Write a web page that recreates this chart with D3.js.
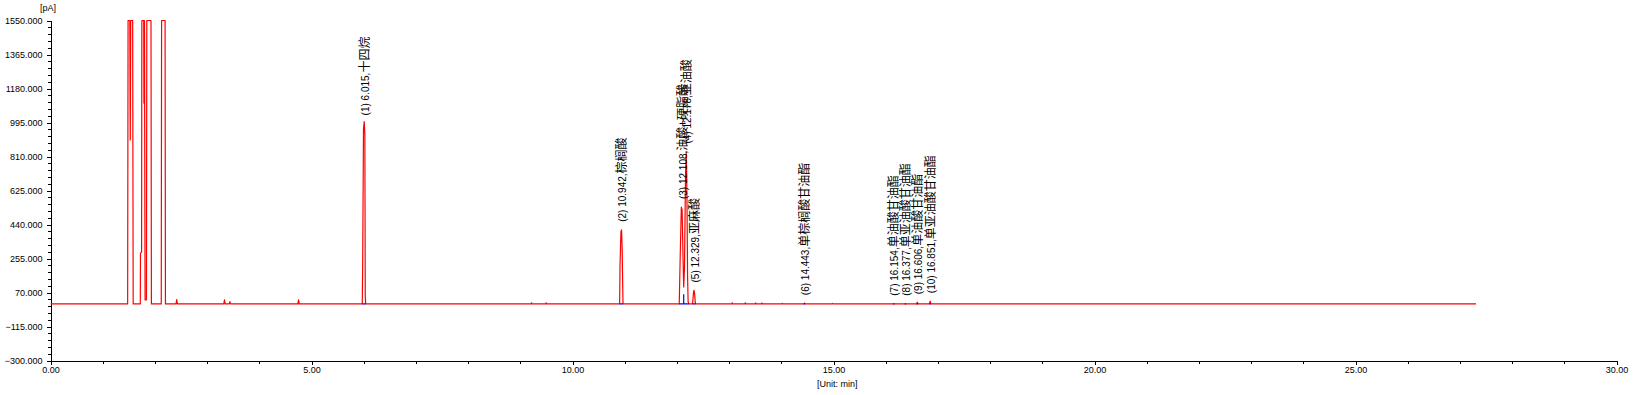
<!DOCTYPE html>
<html>
<head>
<meta charset="utf-8">
<script src="https://cdn.jsdelivr.net/npm/d3@7"></script>
<style>
  body { margin: 0; background: #fff; }
  svg { display: block; }
  .axis text { font-family: "Liberation Sans", Arial, sans-serif; font-size: 9px; fill: #000; }
  .axis path, .axis line { stroke: #000; shape-rendering: crispEdges; }
  .unit { font-family: "Liberation Sans", Arial, sans-serif; font-size: 9px; fill: #000; }
  .plabel { font-family: "Liberation Sans", Arial, sans-serif; font-size: 10px; fill: #000; }
  .plabel .cjk { font-family: "Noto Sans CJK SC", sans-serif; font-size: 12px; }
</style>
</head>
<body>
<script>
// chromatogram trace (time in min, signal in pA)
var traceTimes = [
  0, 1.478, 1.486, 1.520, 1.528, 1.536, 1.574, 1.584,
  1.720, 1.724, 1.745, 1.750, 1.786, 1.790, 1.796, 1.800, 1.812, 1.838, 1.845, 1.925, 1.933,
  2.122, 2.128, 2.195, 2.202,
  2.405, 2.418, 2.431, 3.320, 3.333, 3.346, 3.425, 3.437, 3.449, 4.740, 4.752, 4.764,
  5.972, 5.980, 5.996, 6.010, 6.022, 6.030, 6.038,
  9.205, 9.215, 9.225, 9.485, 9.495, 9.505,
  10.903, 10.910, 10.928, 10.940, 10.952, 10.960, 10.968,
  12.045, 12.062, 12.085, 12.100, 12.118, 12.130, 12.145, 12.165, 12.178, 12.192, 12.205, 12.215, 12.228,
  12.300, 12.310, 12.320, 12.329, 12.340, 12.350, 12.360,
  13.050, 13.060, 13.070, 13.300, 13.310, 13.320, 13.500, 13.510, 13.520, 13.620, 13.630, 13.640,
  14.010, 14.020, 14.030, 14.430, 14.443, 14.456, 14.970, 14.980, 14.990,
  16.142, 16.154, 16.166, 16.365, 16.377, 16.389, 16.592, 16.606, 16.620, 16.836, 16.851, 16.866,
  27.310
];
var traceValues = [
  8, 8, 1550, 1550, 900, 1550, 1550, 8,
  8, 284, 290, 1550, 1550, 1100, 1110, 1550, 30, 30, 1550, 1550, 8,
  8, 1550, 1550, 8,
  8, 32, 8, 8, 30, 8, 8, 20, 8, 8, 30, 8,
  8, 203, 960, 1000, 930, 48, 8,
  8, 14, 8, 8, 14, 8,
  8, 210, 400, 411, 300, 139, 8,
  8, 250, 535, 520, 250, 100, 200, 700, 837, 600, 150, 20, 8,
  8, 40, 78, 81, 60, 20, 8,
  8, 14, 8, 8, 14, 8, 8, 13, 8, 8, 13, 8,
  8, 11, 8, 8, 12, 8, 8, 11, 8,
  8, 9, 8, 8, 9, 8, 8, 17, 8, 8, 23, 8,
  8
];

// identified peaks
var peakNums = [1, 2, 3, 4, 5, 6, 7, 8, 9, 10];
var peakTimes = [6.015, 10.942, 12.108, 12.178, 12.329, 14.443, 16.154, 16.377, 16.606, 16.851];
var peakNames = ["十四烷", "棕榈酸", "油酸+硬脂酸", "亚油酸", "亚麻酸", "单棕榈酸甘油酯",
  "单油酸甘油酯", "单亚油酸甘油酯", "单油酸甘油酯", "单亚油酸甘油酯"];
var peakHeights = [990, 411, 535, 837, 81, 12, 9, 9, 17, 23];
// integration baseline of each peak (blue)
var peakStarts = [5.972, 10.903, 12.045, 12.130, 12.300, 14.430, 16.142, 16.365, 16.592, 16.836];
var peakEnds = [6.038, 10.968, 12.130, 12.228, 12.360, 14.456, 16.166, 16.389, 16.620, 16.866];
var baselineValue = 8;

// axis ticks
var yTicks = [-300, -115, 70, 255, 440, 625, 810, 995, 1180, 1365, 1550];
var xTicks = [0, 5, 10, 15, 20, 25, 30];

var width = 1636,
  height = 395;

var x = d3.scaleLinear().domain([0, 30]).range([50.5, 1616.5]);
var y = d3.scaleLinear().domain([-300, 1550]).range([360.5, 20.5]);

var svg = d3.select("body").append("svg")
  .attr("width", width)
  .attr("height", height);

svg.append("rect")
  .attr("width", width)
  .attr("height", height)
  .attr("fill", "#fff");

svg.append("clipPath")
  .attr("id", "plotclip")
  .append("rect")
  .attr("x", x(0))
  .attr("y", y(1550) - 1)
  .attr("width", x(30) - x(0))
  .attr("height", y(-300) - y(1550) + 1);

// minor ticks on y every 37 pA
var yMinor = d3.range(-300, 1551, 37).filter(function(v) { return yTicks.indexOf(v) < 0; });
svg.append("g")
  .attr("class", "axis")
  .attr("transform", "translate(" + x(0) + ",0)")
  .call(d3.axisLeft(y).tickValues(yMinor).tickSize(3).tickSizeOuter(0).tickFormat(""));

svg.append("g")
  .attr("class", "axis")
  .attr("transform", "translate(" + x(0) + ",0)")
  .call(d3.axisLeft(y).tickValues(yTicks).tickSize(4).tickSizeOuter(0).tickPadding(4)
    .tickFormat(d3.format(".3f")));

// minor ticks on x every minute
var xMinor = d3.range(0, 31, 1).filter(function(v) { return xTicks.indexOf(v) < 0; });
svg.append("g")
  .attr("class", "axis")
  .attr("transform", "translate(0," + y(-300) + ")")
  .call(d3.axisBottom(x).tickValues(xMinor).tickSize(3).tickSizeOuter(0).tickFormat(""));

svg.append("g")
  .attr("class", "axis")
  .attr("transform", "translate(0," + y(-300) + ")")
  .call(d3.axisBottom(x).tickValues(xTicks).tickSize(4).tickSizeOuter(0).tickPadding(2)
    .tickFormat(d3.format(".2f")));

// unit labels
svg.append("text")
  .attr("class", "unit")
  .attr("x", 40)
  .attr("y", 11)
  .text("[pA]");

svg.append("text")
  .attr("class", "unit")
  .attr("x", 817)
  .attr("y", 387)
  .text("[Unit: min]");

var plot = svg.append("g").attr("clip-path", "url(#plotclip)");

// the signal
var tracePoints = traceTimes.map(function(t, i) { return [t, traceValues[i]]; });
var line = d3.line()
  .x(function(d) { return x(d[0]); })
  .y(function(d) { return y(d[1]); });

plot.append("path")
  .datum(tracePoints)
  .attr("fill", "none")
  .attr("stroke", "#ff0000")
  .attr("stroke-width", 1.2)
  .attr("stroke-linejoin", "round")
  .attr("d", line);

// integration baselines
plot.selectAll(".ibase")
  .data(peakNums)
  .enter().append("line")
  .attr("class", "ibase")
  .attr("x1", function(d, i) { return x(peakStarts[i]); })
  .attr("x2", function(d, i) { return x(peakEnds[i]); })
  .attr("y1", y(baselineValue))
  .attr("y2", y(baselineValue))
  .attr("stroke", "#0000ff")
  .attr("stroke-width", 1.2);

// drop line between peak 3 and peak 4
plot.append("line")
  .attr("x1", x(peakEnds[2]))
  .attr("x2", x(peakEnds[2]))
  .attr("y1", y(baselineValue))
  .attr("y2", y(60))
  .attr("stroke", "#0000ff")
  .attr("stroke-width", 1.2);

// peak labels, written upwards from above each apex
var labels = svg.append("g")
  .selectAll("text")
  .data(peakNums)
  .enter().append("text")
  .attr("class", "plabel")
  .attr("transform", function(d, i) {
    return "translate(" + (x(peakTimes[i]) + 1) + "," + (y(peakHeights[i]) - 8) + ") rotate(-90)";
  })
  .attr("dy", "0.35em");

labels.append("tspan")
  .text(function(d, i) { return "(" + d + ") " + peakTimes[i].toFixed(3) + ","; });
labels.append("tspan")
  .attr("class", "cjk")
  .text(function(d, i) { return peakNames[i]; });
</script>
</body>
</html>
